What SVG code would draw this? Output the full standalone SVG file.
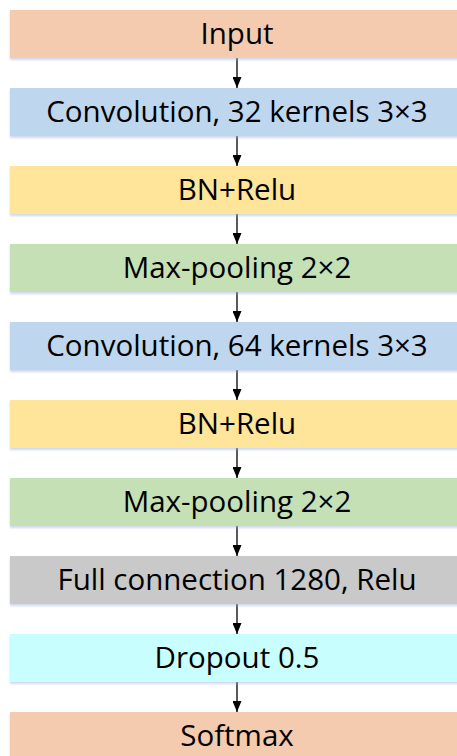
<svg xmlns="http://www.w3.org/2000/svg" width="457" height="756" viewBox="0 0 457 756">
<defs>
<marker id="ah" markerWidth="11" markerHeight="9" refX="11" refY="4.5" orient="auto" markerUnits="userSpaceOnUse" viewBox="0 0 11 9">
<path d="M0,0 L11,4.5 L0,9 Z" fill="#000"/>
</marker>
<filter id="sh" x="-5%" y="-20%" width="110%" height="150%">
<feDropShadow dx="0" dy="2" stdDeviation="1.2" flood-color="#9db3d6" flood-opacity="0.5"/>
</filter>
</defs>
<style>
.box{filter:url(#sh);}
.t{font-family:"Open Sans","Noto Sans",sans-serif;font-size:29.5px;fill:#000;text-anchor:middle;}
.c{stroke:#000;stroke-width:1.3;fill:none;marker-end:url(#ah);}
.salmon{fill:#F5CBAF;}
.blue{fill:#BED6EE;}
.yellow{fill:#FFE59A;}
.green{fill:#C6E0B5;}
.gray{fill:#C9C9C9;}
.cyan{fill:#C8FEFE;}
</style>
<rect width="457" height="756" fill="#fff"/>
<g id="connectors">
<line class="c" x1="237" y1="58" x2="237" y2="88"/>
<line class="c" x1="237" y1="136" x2="237" y2="166"/>
<line class="c" x1="237" y1="214" x2="237" y2="244"/>
<line class="c" x1="237" y1="292" x2="237" y2="322"/>
<line class="c" x1="237" y1="370" x2="237" y2="400"/>
<line class="c" x1="237" y1="448" x2="237" y2="478"/>
<line class="c" x1="237" y1="526" x2="237" y2="556"/>
<line class="c" x1="237" y1="604" x2="237" y2="634"/>
<line class="c" x1="237" y1="682" x2="237" y2="712"/>
</g>
<g id="input"><rect class="box salmon" x="10" y="10" width="456" height="48"/><text class="t" x="237" y="44">Input</text></g>
<g id="conv1"><rect class="box blue" x="10" y="88" width="456" height="48"/><text class="t" x="237" y="122">Convolution, 32 kernels 3×3</text></g>
<g id="bn1"><rect class="box yellow" x="10" y="166" width="456" height="48"/><text class="t" x="237" y="200">BN+Relu</text></g>
<g id="pool1"><rect class="box green" x="10" y="244" width="456" height="48"/><text class="t" x="237" y="278">Max-pooling 2×2</text></g>
<g id="conv2"><rect class="box blue" x="10" y="322" width="456" height="48"/><text class="t" x="237" y="356">Convolution, 64 kernels 3×3</text></g>
<g id="bn2"><rect class="box yellow" x="10" y="400" width="456" height="48"/><text class="t" x="237" y="434">BN+Relu</text></g>
<g id="pool2"><rect class="box green" x="10" y="478" width="456" height="48"/><text class="t" x="237" y="512">Max-pooling 2×2</text></g>
<g id="fc"><rect class="box gray" x="10" y="556" width="456" height="48"/><text class="t" x="237" y="590">Full connection 1280, Relu</text></g>
<g id="dropout"><rect class="box cyan" x="10" y="634" width="456" height="48"/><text class="t" x="237" y="668">Dropout 0.5</text></g>
<g id="softmax"><rect class="box salmon" x="10" y="712" width="456" height="48"/><text class="t" x="237" y="746">Softmax</text></g>
</svg>
